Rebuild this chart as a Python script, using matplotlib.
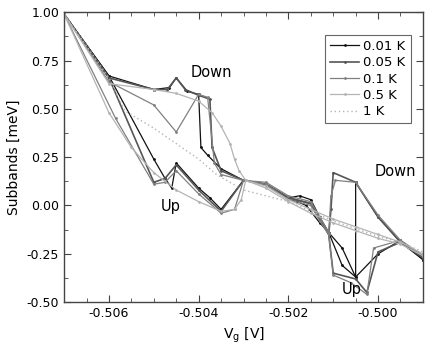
import matplotlib
matplotlib.use("Agg")
import matplotlib.pyplot as plt
from matplotlib.ticker import MultipleLocator

# gate voltage (V) and subband energy (meV), one down and one up sweep per temperature
vg_down_001 = [-0.5070, -0.5060, -0.5050, -0.50465, -0.5045, -0.50425, -0.5040, -0.50395, -0.5038, -0.5035,
               -0.5030, -0.5025, -0.5020, -0.50175, -0.5015, -0.5013, -0.5011, -0.5008, -0.5005, -0.5005,
               -0.5000, -0.4995, -0.4990]
sb_down_001 = [0.99, 0.67, 0.60, 0.61, 0.66, 0.59, 0.575, 0.30, 0.26, 0.19,
               0.13, 0.11, 0.04, 0.05, 0.03, -0.06, -0.14, -0.31, -0.37, 0.12,
               -0.06, -0.19, -0.28]
vg_up_001 = [-0.5070, -0.5060, -0.5050, -0.50475, -0.5046, -0.5045, -0.5040, -0.50375, -0.5035, -0.5030,
             -0.5025, -0.5020, -0.5018, -0.5016, -0.5013, -0.5011, -0.5008, -0.5005, -0.5000, -0.4995,
             -0.4990]
sb_up_001 = [0.99, 0.67, 0.24, 0.14, 0.09, 0.22, 0.09, 0.04, -0.02, 0.13,
             0.11, 0.03, 0.02, 0.00, -0.09, -0.14, -0.22, -0.37, -0.25, -0.18,
             -0.28]

vg_down_005 = [-0.5070, -0.5060, -0.5050, -0.5047, -0.5045, -0.5043, -0.5040, -0.50375, -0.5037, -0.5035,
               -0.5030, -0.5025, -0.5020, -0.5015, -0.5013, -0.5011, -0.50105, -0.5010, -0.5005, -0.5000,
               -0.4995, -0.4990]
sb_down_005 = [0.99, 0.66, 0.60, 0.60, 0.66, 0.60, 0.57, 0.55, 0.30, 0.18,
               0.13, 0.11, 0.04, 0.01, -0.07, -0.15, -0.02, 0.17, 0.12, -0.06,
               -0.19, -0.27]
vg_up_005 = [-0.5070, -0.5060, -0.5050, -0.50475, -0.5045, -0.5040, -0.5035, -0.5030, -0.5025, -0.5020,
             -0.5015, -0.5013, -0.5011, -0.5010, -0.5005, -0.50025, -0.5000, -0.4995, -0.4990]
sb_up_005 = [0.99, 0.66, 0.12, 0.14, 0.21, 0.08, -0.03, 0.13, 0.11, 0.04,
             0.01, -0.07, -0.15, -0.35, -0.38, -0.45, -0.24, -0.19, -0.27]

vg_down_01 = [-0.5070, -0.5060, -0.5050, -0.5045, -0.5040, -0.5038, -0.50365, -0.5035, -0.5030, -0.5025,
              -0.5020, -0.5015, -0.5013, -0.5011, -0.50105, -0.50095, -0.5005, -0.5000, -0.4995, -0.4990]
sb_down_01 = [0.99, 0.64, 0.52, 0.38, 0.575, 0.56, 0.22, 0.16, 0.13, 0.12,
              0.05, 0.02, -0.06, -0.14, 0.05, 0.13, 0.12, -0.05, -0.18, -0.26]
vg_up_01 = [-0.5070, -0.50585, -0.5050, -0.50475, -0.5045, -0.5040, -0.5035, -0.5032, -0.5030, -0.5025,
            -0.5020, -0.5015, -0.5013, -0.5011, -0.5010, -0.5006, -0.50025, -0.5001, -0.4995, -0.4990]
sb_up_01 = [0.99, 0.45, 0.11, 0.12, 0.18, 0.06, -0.04, -0.02, 0.13, 0.11,
            0.03, 0.00, -0.08, -0.15, -0.36, -0.40, -0.46, -0.22, -0.18, -0.26]

vg_down_05 = [-0.5070, -0.5060, -0.5050, -0.5045, -0.5040, -0.5037, -0.5035, -0.5033, -0.5032, -0.5031,
              -0.50295, -0.5025, -0.5020, -0.5015, -0.5010, -0.5005, -0.5000, -0.4995, -0.4990]
sb_down_05 = [0.99, 0.63, 0.60, 0.58, 0.54, 0.48, 0.41, 0.32, 0.24, 0.18,
              0.13, 0.10, 0.03, -0.02, -0.07, -0.11, -0.15, -0.19, -0.25]
vg_up_05 = [-0.5070, -0.5060, -0.5055, -0.5050, -0.5045, -0.5040, -0.5035, -0.5032, -0.50305, -0.50295,
            -0.5025, -0.5020, -0.5015, -0.5010, -0.5005, -0.5000, -0.4995, -0.4990]
sb_up_05 = [0.99, 0.48, 0.30, 0.17, 0.08, 0.02, -0.03, -0.02, 0.03, 0.13,
            0.09, 0.02, -0.04, -0.09, -0.13, -0.17, -0.20, -0.26]

vg_1 = [-0.5070, -0.5060, -0.50565, -0.5050, -0.5045, -0.5040, -0.5036, -0.5030, -0.5025, -0.5020,
        -0.5015, -0.5010, -0.5005, -0.5000, -0.4995, -0.4990]
sb_1 = [0.99, 0.66, 0.49, 0.40, 0.32, 0.24, 0.16, 0.08, 0.05, 0.02,
        -0.03, -0.08, -0.12, -0.16, -0.19, -0.24]

labels = ["0.01 K", "0.05 K", "0.1 K", "0.5 K", "1 K"]

fig = plt.figure(figsize=(4.36, 3.58), dpi=100)
ax = fig.add_axes([0.147, 0.156, 0.823, 0.81])

styles = [
    dict(color="#111111", lw=0.9),
    dict(color="#555555", lw=1.2),
    dict(color="#808080", lw=0.9),
    dict(color="#b4b4b4", lw=0.9),
]
sweeps = [
    (vg_down_001, sb_down_001, vg_up_001, sb_up_001),
    (vg_down_005, sb_down_005, vg_up_005, sb_up_005),
    (vg_down_01, sb_down_01, vg_up_01, sb_up_01),
    (vg_down_05, sb_down_05, vg_up_05, sb_up_05),
]
for (xd, yd, xu, yu), st, lab in zip(sweeps, styles, labels):
    ax.plot(xd, yd, marker=".", ms=2, label=lab, **st)
    ax.plot(xu, yu, marker=".", ms=2, **st)
ax.plot(vg_1, sb_1, color="#b4b4b4", lw=1.0, ls=(0, (1, 2)), label=labels[4])

ax.text(-0.50418, 0.665, "Down", fontsize=10.5)
ax.text(-0.50485, -0.03, "Up", fontsize=10.5)
ax.text(-0.50008, 0.15, "Down", fontsize=10.5)
ax.text(-0.50082, -0.46, "Up", fontsize=10.5)

ax.set_xlim(-0.507, -0.499)
ax.set_ylim(-0.5, 1.0)
ax.xaxis.set_major_locator(MultipleLocator(0.002))
ax.xaxis.set_minor_locator(MultipleLocator(0.0005))
ax.yaxis.set_major_locator(MultipleLocator(0.25))
ax.yaxis.set_minor_locator(MultipleLocator(0.125))
ax.xaxis.set_major_formatter(plt.FuncFormatter(lambda v, p: f"{v:.3f}"))
ax.yaxis.set_major_formatter(plt.FuncFormatter(lambda v, p: f"{v:.2f}"))
ax.tick_params(which="both", direction="in", top=True, right=True, labelsize=9, color="#444444")
ax.tick_params(which="major", length=5)
ax.tick_params(which="minor", length=3)
for s in ax.spines.values():
    s.set_color("#444444")
    s.set_linewidth(1.0)

ax.set_xlabel("V$_{\\rm g}$ [V]", fontsize=10)
ax.set_ylabel("Subbands [meV]", fontsize=10)

leg = ax.legend(loc="upper right", bbox_to_anchor=(0.985, 0.945), fontsize=9.5, fancybox=False,
                framealpha=1, edgecolor="#666666", handlelength=2.2, handletextpad=0.3,
                labelspacing=0.25, borderpad=0.4)
leg.get_frame().set_linewidth(0.8)

fig.savefig("out.png", dpi=100)
